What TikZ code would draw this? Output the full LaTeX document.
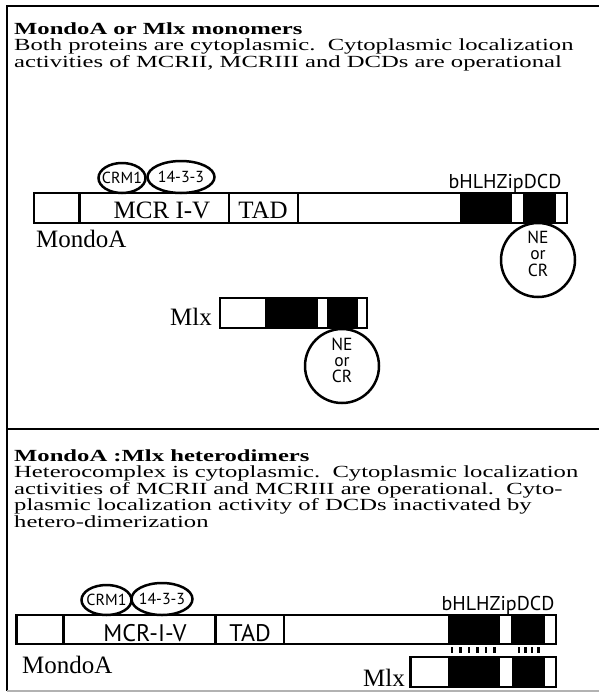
\documentclass[tikz,border=0pt]{standalone}
\usepackage{fontspec}
\setmainfont{Liberation Serif}
\newfontfamily\hdfont[FakeStretch=1.45]{Liberation Serif}
\newfontfamily\myriad{PT Sans}
\usetikzlibrary{shapes.geometric}
\begin{document}
\begin{tikzpicture}[x=1pt,y=-1pt,
  frm/.style={line width=2.5pt},
  barline/.style={line width=2.6pt},
  blk/.style={fill=black},
  hd/.style={anchor=base west, inner sep=0pt, font=\hdfont\fontsize{17}{15}\selectfont},
  lab/.style={inner sep=0pt, font=\fontsize{25}{25}\selectfont},
  sans/.style={inner sep=0pt, font=\myriad\fontsize{17.5}{17.5}\selectfont},
  small/.style={inner sep=0pt, font=\myriad\fontsize{16}{16}\selectfont},
  ell/.style={draw, ellipse, line width=2.5pt, inner sep=0pt},
  circ/.style={draw, circle, line width=2.5pt, inner sep=0pt, minimum size=74pt},
  tick/.style={line width=2.6pt}]
\useasboundingbox (0,0) rectangle (598,694);
\fill[white] (0,0) rectangle (598,694);
% frame
\draw[frm] (602,6) -- (7,6) -- (7,691);
\draw[frm] (7,429) -- (602,429);
\draw[line width=2pt, gray!60] (7,691) -- (602,691);

% ---------- upper panel ----------
\node[hd] (t1) at (14,34) {\bfseries MondoA or Mlx monomers};
\node[hd] (t1a) at (14,50.5) {Both proteins are cytoplasmic.\ \ Cytoplasmic localization};
\node[hd] (t1b) at (14,67) {activities of MCRII, MCRIII and DCDs are operational};

% MondoA bar
\fill[blk] (460,193) rectangle (512,223);
\fill[blk] (523,193) rectangle (556,223);
\draw[barline] (34,193) rectangle (567,223);
\draw[barline] (79.5,193) -- (79.5,223);
\draw[barline] (229,193) -- (229,223);
\draw[barline] (298,193) -- (298,223);
\node[lab, anchor=base] (mcr1) at (162,218) {MCR I-V};
\node[lab, anchor=base] (tad1) at (263,218) {TAD};
\node[lab, anchor=base west] (mondo1) at (36,247) {MondoA};
\node[sans, font=\myriad\fontsize{20}{20}\selectfont, anchor=base] (bh1) at (505,188) {bHLHZipDCD};
\node[ell, minimum width=47pt, minimum height=30pt] (crm1) at (122,178) {};
\node[small] at (crm1) {CRM1};
\node[ell, minimum width=67pt, minimum height=32pt] (f1) at (181,177) {};
\node[small] at (f1) {14-3-3};
\node[circ] (ne1) at (538,260) {};
\node[sans, anchor=base] (ne1a) at (538,243) {NE};
\node[sans, anchor=base] (ne1b) at (538,259) {or};
\node[sans, anchor=base] (ne1c) at (538,276) {CR};

% Mlx bar
\fill[blk] (265,298) rectangle (318,328);
\fill[blk] (327,298) rectangle (358,328);
\draw[barline] (220,298) rectangle (367,328);
\node[lab, anchor=base east] (mlx1) at (212,325) {Mlx};
\node[circ] (ne2) at (342,366) {};
\node[sans, anchor=base] (ne2a) at (342,350) {NE};
\node[sans, anchor=base] (ne2b) at (342,366) {or};
\node[sans, anchor=base] (ne2c) at (342,382) {CR};

% ---------- lower panel ----------
\node[hd] (t2) at (14,461) {\bfseries MondoA :Mlx heterodimers};
\node[hd] (t2a) at (14,477.5) {Heterocomplex is cytoplasmic.\ \ Cytoplasmic localization};
\node[hd] (t2b) at (14,494) {activities of MCRII and MCRIII are operational.\ \ Cyto-};
\node[hd] (t2c) at (14,510.5) {plasmic localization activity of DCDs inactivated by};
\node[hd] (t2d) at (14,527) {hetero-dimerization};

% MondoA bar
\fill[blk] (448,615) rectangle (500,644);
\fill[blk] (511,615) rectangle (545,644);
\draw[barline] (16.6,615) rectangle (556,644);
\draw[barline] (63.6,615) -- (63.6,644);
\draw[barline] (215.5,615) -- (215.5,644);
\draw[barline] (284,615) -- (284,644);
\node[sans, font=\myriad\fontsize{24}{24}\selectfont, anchor=base] (mcr2) at (145,641) {MCR-I-V};
\node[sans, font=\myriad\fontsize{24}{24}\selectfont, anchor=base] (tad2) at (250,641) {TAD};
\node[lab, anchor=base west] (mondo2) at (22,673) {MondoA};
\node[sans, font=\myriad\fontsize{20}{20}\selectfont, anchor=base] (bh2) at (498,610) {bHLHZipDCD};
\node[ell, minimum width=50pt, minimum height=30pt] (crm2) at (106.5,600) {};
\node[small] at (crm2) {CRM1};
\node[ell, minimum width=61pt, minimum height=32pt] (f2) at (162,599) {};
\node[small] at (f2) {14-3-3};

% dimerization ticks
\foreach \x in {452,460.5,469,477.5,486,494.5,519,525.5,532,538.5}
  \draw[tick] (\x,647) -- (\x,653);

% Mlx bar
\fill[blk] (448,657) rectangle (500,687);
\fill[blk] (512,657) rectangle (545,687);
\draw[barline] (410.6,657) rectangle (556,687);
\node[lab, anchor=base east] (mlx2) at (405,686) {Mlx};
\end{tikzpicture}
\end{document}
